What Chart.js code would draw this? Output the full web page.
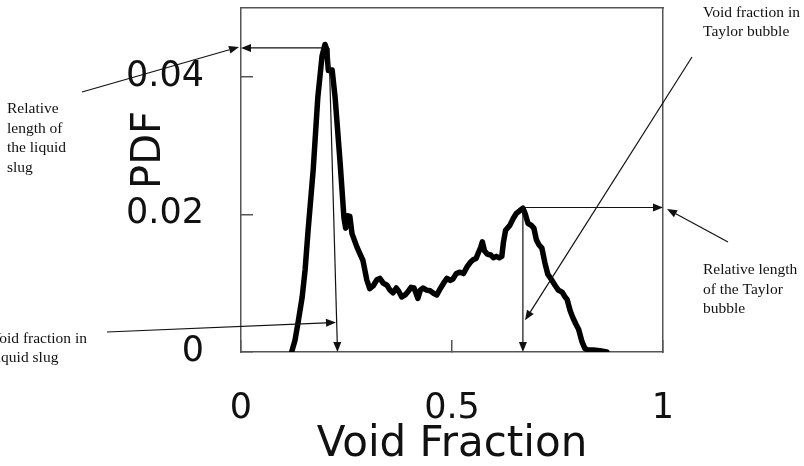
<!DOCTYPE html>
<html>
<head>
<meta charset="utf-8">
<script src="https://cdn.jsdelivr.net/npm/chart.js@4.4.1/dist/chart.umd.min.js"></script>
<style>
  html, body { margin: 0; padding: 0; background: #ffffff; }
  #wrap { width: 804px; height: 466px; position: relative; }
</style>
</head>
<body>
<div id="wrap"><canvas id="c" width="804" height="466"></canvas></div>
<script>
// ---------------- data ----------------
const voidFraction = [
  0.120, 0.128, 0.135, 0.145, 0.152, 0.159, 0.171, 0.182, 0.192, 0.199,
  0.203, 0.207, 0.216, 0.223, 0.235, 0.244, 0.248, 0.253, 0.258, 0.263,
  0.275, 0.289, 0.298, 0.305, 0.313, 0.322, 0.329, 0.337, 0.346, 0.353,
  0.360, 0.368, 0.374, 0.381, 0.389, 0.396, 0.403, 0.410, 0.415, 0.419,
  0.425, 0.431, 0.440, 0.448, 0.457, 0.464, 0.472, 0.480, 0.488, 0.496,
  0.502, 0.510, 0.519, 0.527, 0.536, 0.543, 0.550, 0.557, 0.563, 0.568,
  0.572, 0.577, 0.584, 0.592, 0.598, 0.605, 0.612, 0.618, 0.622, 0.627,
  0.637, 0.645, 0.652, 0.660, 0.668, 0.674, 0.680, 0.688, 0.694, 0.700,
  0.706, 0.713, 0.720, 0.727, 0.735, 0.744, 0.752, 0.761, 0.767, 0.773,
  0.780, 0.787, 0.794, 0.800, 0.808, 0.815, 0.822, 0.835, 0.850, 0.867
];
const pdfValues = [
  0.0000, 0.0017, 0.0042, 0.0080, 0.0120, 0.0177, 0.0264, 0.0370, 0.0430, 0.0447,
  0.0440, 0.0409, 0.0410, 0.0370, 0.0274, 0.0195, 0.0180, 0.0198, 0.0197, 0.0172,
  0.0152, 0.0133, 0.0105, 0.0092, 0.0096, 0.0105, 0.0107, 0.0100, 0.0097, 0.0090,
  0.0086, 0.0093, 0.0088, 0.0080, 0.0083, 0.0088, 0.0094, 0.0093, 0.0085, 0.0078,
  0.0090, 0.0093, 0.0090, 0.0089, 0.0085, 0.0083, 0.0092, 0.0100, 0.0107, 0.0104,
  0.0106, 0.0114, 0.0116, 0.0114, 0.0124, 0.0130, 0.0134, 0.0136, 0.0145, 0.0152,
  0.0160, 0.0147, 0.0142, 0.0141, 0.0137, 0.0139, 0.0137, 0.0139, 0.0160, 0.0177,
  0.0184, 0.0194, 0.0201, 0.0205, 0.0209, 0.0200, 0.0187, 0.0184, 0.0180, 0.0163,
  0.0156, 0.0151, 0.0130, 0.0113, 0.0106, 0.0097, 0.0090, 0.0087, 0.0081, 0.0076,
  0.0060, 0.0049, 0.0040, 0.0033, 0.0015, 0.0005, 0.0003, 0.0003, 0.0002, 0.0000
];
const xTickValues = [0, 0.5, 1];
const yTickValues = [0, 0.02, 0.04];
const xAxisTitle = 'Void Fraction';
const yAxisTitle = 'PDF';

// annotation arrows: endpoints either in data units {x, y} or in pixels {px, py}
const annotationArrows = [
  { from: { x: 0.199, y: 0.0442 }, to: { x: 0.0, y: 0.0442 } },
  { from: { x: 0.2085, y: 0.0442 }, to: { x: 0.2287, y: 0.0 } },
  { from: { px: 107, py: 332 }, to: { x: 0.2251, y: 0.0043 } },
  { from: { px: 82, py: 92 }, to: { px: 239, py: 47 } },
  { from: { x: 0.668, y: 0.0210 }, to: { x: 1.0, y: 0.0210 } },
  { from: { x: 0.668, y: 0.0210 }, to: { x: 0.668, y: 0.0 } },
  { from: { px: 728, py: 242 }, to: { px: 667, py: 209 } },
  { from: { px: 692, py: 57 }, to: { x: 0.673, y: 0.0046 } }
];
// annotation texts (lines, left x, first baseline, line step)
const annotationTexts = [
  { lines: ['Relative', 'length of', 'the liquid', 'slug'], x: 7, y: 113, step: 19.5 },
  { lines: ['Void fraction in'], x: -10, y: 343, step: 19.5 },
  { lines: ['liquid slug'], x: -7.5, y: 362, step: 19.5 },
  { lines: ['Void fraction in', 'Taylor bubble'], x: 703, y: 17, step: 19 },
  { lines: ['Relative length', 'of the Taylor', 'bubble'], x: 703, y: 274, step: 19.5 }
];

const points = voidFraction.map((v, i) => ({ x: v, y: pdfValues[i] }));

const AXIS_COLOR = '#555555';
const TEXT_FONT = 'DejaVu Sans';

const annotationPlugin = {
  id: 'annotations',
  afterDatasetsDraw(chart) {
    const ctx = chart.ctx;
    const xs = chart.scales.x, ys = chart.scales.y;
    const P = p => (p.px !== undefined) ? { x: p.px, y: p.py }
                                         : { x: xs.getPixelForValue(p.x), y: ys.getPixelForValue(p.y) };
    ctx.save();
    ctx.strokeStyle = '#111111';
    ctx.fillStyle = '#111111';
    ctx.lineWidth = 1.2;
    annotationArrows.forEach(a => {
      const s = P(a.from), e = P(a.to);
      const ang = Math.atan2(e.y - s.y, e.x - s.x);
      const hl = 10, hw = 4;
      const bx = e.x - hl * Math.cos(ang), by = e.y - hl * Math.sin(ang);
      ctx.beginPath();
      ctx.moveTo(s.x, s.y);
      ctx.lineTo(bx, by);
      ctx.stroke();
      ctx.beginPath();
      ctx.moveTo(e.x, e.y);
      ctx.lineTo(bx + hw * Math.sin(ang), by - hw * Math.cos(ang));
      ctx.lineTo(bx - hw * Math.sin(ang), by + hw * Math.cos(ang));
      ctx.closePath();
      ctx.fill();
    });
    ctx.font = '15.5px "Liberation Serif", "Times New Roman", serif';
    ctx.textAlign = 'left';
    ctx.textBaseline = 'alphabetic';
    annotationTexts.forEach(t => {
      t.lines.forEach((ln, i) => ctx.fillText(ln, t.x, t.y + i * t.step));
    });
    // y axis title (rotated)
    ctx.fillStyle = '#111111';
    ctx.font = '40px "' + TEXT_FONT + '"';
    ctx.translate(160, 150);
    ctx.rotate(-Math.PI / 2);
    ctx.textAlign = 'center';
    ctx.textBaseline = 'alphabetic';
    ctx.fillText(yAxisTitle, 0, 0);
    ctx.restore();
  }
};

new Chart(document.getElementById('c'), {
  type: 'line',
  data: {
    datasets: [{
      data: points,
      borderColor: '#000000',
      borderWidth: 5.5,
      pointRadius: 0,
      tension: 0,
      fill: false,
      borderJoinStyle: 'round',
      borderCapStyle: 'round'
    }]
  },
  options: {
    responsive: false,
    animation: false,
    devicePixelRatio: 1,
    layout: { padding: { left: 0, right: 141, top: 8, bottom: 0 } },
    plugins: { legend: { display: false }, tooltip: { enabled: false } },
    scales: {
      x: {
        type: 'linear', position: 'bottom', min: 0, max: 1,
        afterBuildTicks: s => { s.ticks = xTickValues.map(v => ({ value: v })); },
        afterFit: s => { s.height = 114; s.paddingLeft = 0; s.paddingRight = 0; },
        grid: { display: true, drawOnChartArea: false, drawTicks: true, tickLength: -12, color: AXIS_COLOR, lineWidth: 1.5 },
        border: { display: true, color: AXIS_COLOR, width: 1.5 },
        ticks: { padding: 51, maxRotation: 0, autoSkip: false, color: '#111111',
                 font: { family: TEXT_FONT, size: 35, lineHeight: 1 }, callback: v => String(v) },
        title: { display: true, text: xAxisTitle, color: '#111111',
                 font: { family: TEXT_FONT, size: 42, lineHeight: 1 }, padding: { top: 0, bottom: 0 } }
      },
      y: {
        type: 'linear', position: 'left', min: 0, max: 0.05,
        afterBuildTicks: s => { s.ticks = yTickValues.map(v => ({ value: v })); },
        afterFit: s => { s.width = 241; s.paddingTop = 0; s.paddingBottom = 0; },
        grid: { display: true, drawOnChartArea: false, drawTicks: true, tickLength: -12, color: AXIS_COLOR, lineWidth: 1.5 },
        border: { display: true, color: AXIS_COLOR, width: 1.5 },
        ticks: { padding: 49, autoSkip: false, color: '#111111',
                 font: { family: TEXT_FONT, size: 35, lineHeight: 1 }, callback: v => String(v) }
      },
      x2: {
        type: 'linear', position: 'top', min: 0, max: 1, display: true,
        afterFit: s => { s.height = 0; s.paddingLeft = 0; s.paddingRight = 0; },
        grid: { display: false },
        border: { display: true, color: AXIS_COLOR, width: 1.5 },
        ticks: { display: false }
      },
      y2: {
        type: 'linear', position: 'right', min: 0, max: 0.05, display: true,
        afterFit: s => { s.width = 0; s.paddingTop = 0; s.paddingBottom = 0; },
        grid: { display: false },
        border: { display: true, color: AXIS_COLOR, width: 1.5 },
        ticks: { display: false }
      }
    }
  },
  plugins: [annotationPlugin]
});
</script>
</body>
</html>
